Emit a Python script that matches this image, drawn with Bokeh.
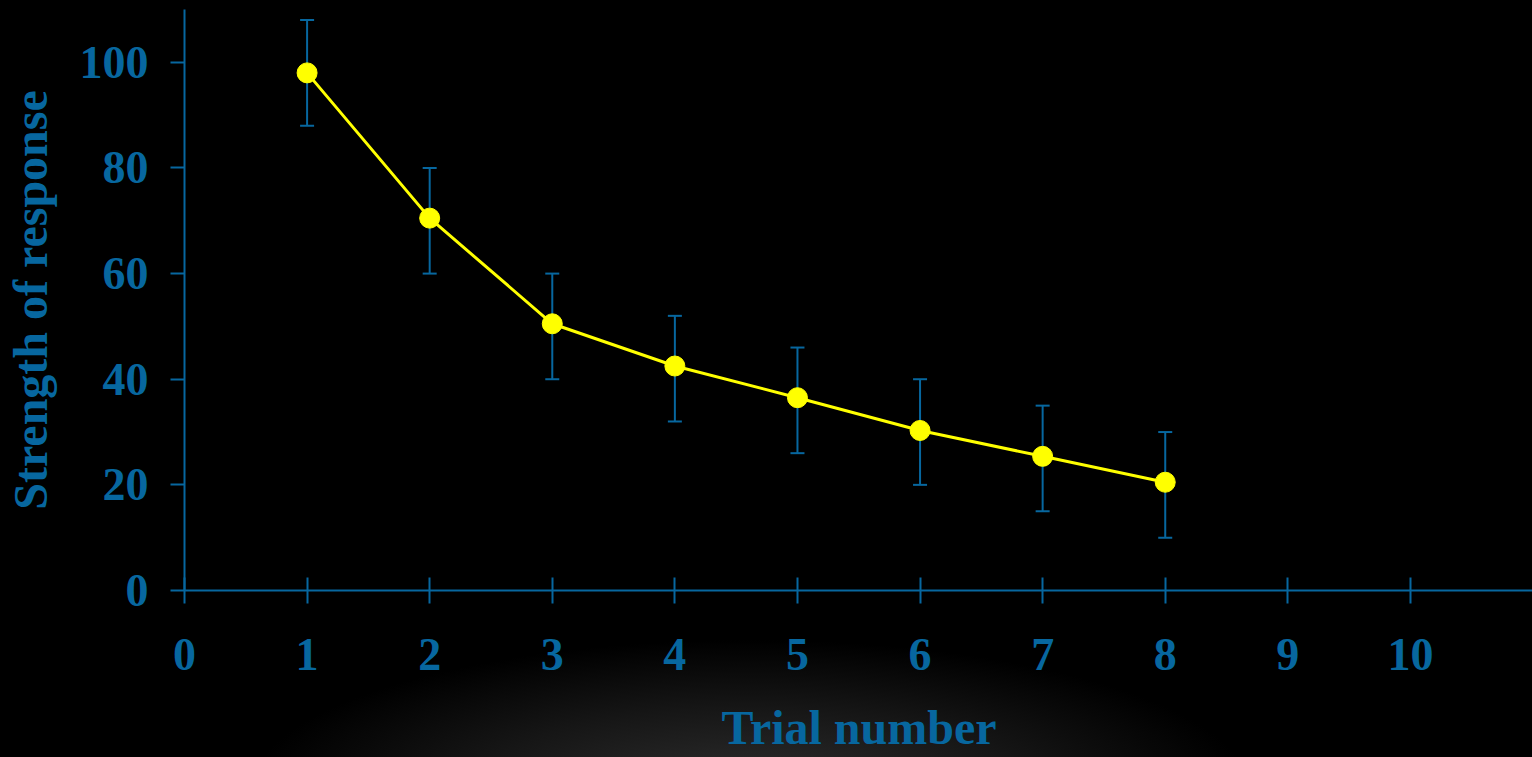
import re
from bokeh.plotting import figure
from bokeh.models import ColumnDataSource, Whisker, TeeHead, FixedTicker
from bokeh.embed import file_html
from bokeh.resources import INLINE

# ---- data ----
trials = [1, 2, 3, 4, 5, 6, 7, 8]
strength = [98, 70.5, 50.5, 42.5, 36.5, 30.3, 25.4, 20.5]
err_upper = [108, 80, 60, 52, 46, 40, 35, 30]
err_lower = [88, 60, 40, 32, 26, 20, 15, 10]
x_ticks = [0, 1, 2, 3, 4, 5, 6, 7, 8, 9, 10, 11]
y_ticks = [0, 20, 40, 60, 80, 100]
x_title = "Trial number"
y_title = "Strength of response"

BLUE = "#07679F"
YELLOW = "#FFFF00"
FONT = "Liberation Serif"
GLOW = "radial-gradient(ellipse 500px 150px at 750px 790px, #2e2e2e 0%, #161616 55%, #000 100%)"

src = ColumnDataSource(dict(x=trials, y=strength, upper=err_upper, lower=err_lower))

p = figure(frame_width=1349, frame_height=581, x_range=(0, 11.004), y_range=(0, 110),
           output_backend="svg", toolbar_location=None,
           min_border_left=183, min_border_right=0, min_border_top=9, min_border_bottom=167)

p.background_fill_alpha = 0
p.border_fill_color = "black"
p.border_fill_alpha = 0
p.styles = {"background": "#000 " + GLOW}
p.outline_line_color = None
p.xgrid.visible = False
p.ygrid.visible = False

for ax in (p.xaxis[0], p.yaxis[0]):
    ax.axis_line_color = BLUE
    ax.axis_line_width = 2
    ax.major_tick_line_color = BLUE
    ax.major_tick_line_width = 2
    ax.minor_tick_line_color = None
    ax.major_label_text_color = BLUE
    ax.major_label_text_font = FONT
    ax.major_label_text_font_style = "bold"
    ax.major_label_text_font_size = "46px"
    ax.axis_label_text_color = BLUE
    ax.axis_label_text_font = FONT
    ax.axis_label_text_font_style = "bold"
    ax.axis_label_text_font_size = "48px"

xa = p.xaxis[0]
xa.ticker = FixedTicker(ticks=x_ticks)
xa.major_label_overrides = {11: ""}
xa.major_tick_in = 13
xa.major_tick_out = 13
xa.major_label_standoff = 35
xa.axis_label = x_title
xa.axis_label_standoff = 28

ya = p.yaxis[0]
ya.ticker = FixedTicker(ticks=y_ticks)
ya.major_tick_in = 0
ya.major_tick_out = 14
ya.major_label_standoff = 22
ya.axis_label = y_title
ya.axis_label_standoff = 20

w = Whisker(base="x", upper="upper", lower="lower", source=src,
            line_color=BLUE, line_width=2, level="underlay",
            upper_head=TeeHead(size=14, line_color=BLUE, line_width=2),
            lower_head=TeeHead(size=14, line_color=BLUE, line_width=2))
p.add_layout(w)

p.line("x", "y", source=src, line_color=YELLOW, line_width=3)
p.scatter("x", "y", source=src, size=20, fill_color=YELLOW, line_color=YELLOW)

html = file_html(p, INLINE)
html = re.sub(r"<body[^>]*>",
              '<body style="margin:0;overflow:hidden;background:#000;">', html, count=1)
open("out.html", "w").write(html)
